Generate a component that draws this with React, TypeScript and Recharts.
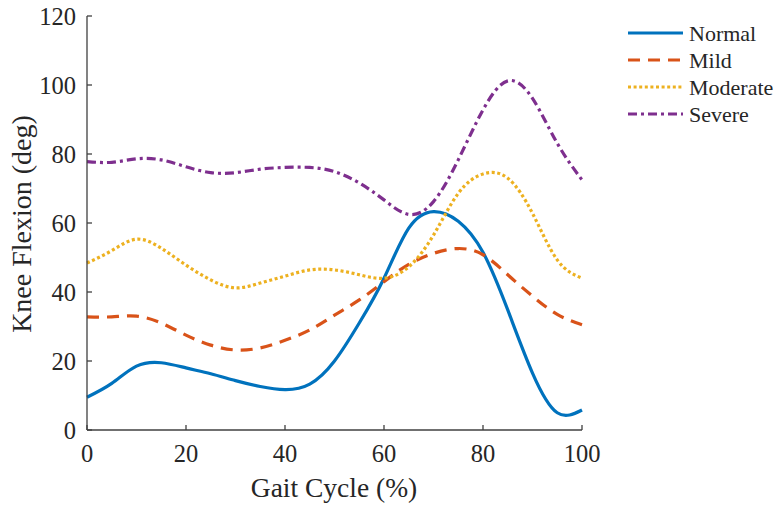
import React from 'react';
import { LineChart, Line, XAxis, YAxis, Legend, Label } from 'recharts';

const gaitCycle = [0, 5, 10, 15, 20, 25, 30, 35, 40, 45, 50, 55, 60, 65, 70, 75, 80, 85, 90, 95, 100];
const normal = [9.5, 13.5, 18.5, 19.5, 18, 16.3, 14.3, 12.6, 11.7, 13.3, 20, 31, 44, 58.5, 63.3, 60.5, 51.5, 34.8, 16.5, 5, 5.8];
const mild = [32.8, 32.8, 33, 31, 27.5, 24.6, 23.2, 23.8, 26, 29, 33.3, 37.7, 43, 48, 51.2, 52.6, 50.8, 45, 38.8, 33.5, 30.5];
const moderate = [48.4, 52, 55.3, 52.7, 47.8, 43.5, 41.2, 42.6, 44.6, 46.4, 46.4, 45, 44, 47.3, 56.5, 68.6, 74.2, 73, 62.8, 49.3, 44];
const severe = [77.8, 77.6, 78.6, 78.3, 76.3, 74.6, 74.6, 75.6, 76.1, 76.1, 74.9, 71.6, 66.7, 62.5, 66.2, 78.3, 92.8, 101.2, 96.1, 83.1, 72.5];

const xTicks = [0, 20, 40, 60, 80, 100];
const yTicks = [0, 20, 40, 60, 80, 100, 120];

const seriesNames = ['Normal', 'Mild', 'Moderate', 'Severe'];
const seriesKeys = ['normal', 'mild', 'moderate', 'severe'];
const seriesColors = ['#0072BD', '#D95319', '#EDB120', '#7E2F8E'];
const seriesDash = [undefined, '12 8', '3 2.6', '9 4 3 4'];

const data = gaitCycle.map((x, i) => ({
  x,
  normal: normal[i],
  mild: mild[i],
  moderate: moderate[i],
  severe: severe[i],
}));

const FONT = '"Liberation Serif", "Times New Roman", serif';
const AXIS = '#404040';
const TEXT = '#262626';

const LegendBox = () => (
  <svg width={163} height={115} style={{ overflow: 'visible' }}>
    {seriesNames.map((name, i) => {
      const y = 18 + i * 27;
      return (
        <g key={name}>
          <line x1={8} x2={63} y1={y} y2={y} stroke={seriesColors[i]} strokeWidth={3}
            strokeDasharray={seriesDash[i]} />
          <text x={69} y={y + 8} fontFamily={FONT} fontSize={22} fill={TEXT}>{name}</text>
        </g>
      );
    })}
  </svg>
);

export default function App() {
  return (
    <div style={{ position: 'absolute', left: 0, top: 0, width: 783, height: 511, background: '#fff' }}>
      <LineChart width={783} height={511} data={data}
        margin={{ top: 16, right: 201, bottom: 41, left: 27 }}>
        <XAxis dataKey="x" type="number" domain={[0, 100]} ticks={xTicks} height={40}
          axisLine={{ stroke: AXIS, strokeWidth: 1.3 }} tickLine={{ stroke: AXIS, strokeWidth: 1.3 }}
          tickSize={-5} tickMargin={20}
          tick={{ fill: TEXT, fontSize: 24.5, fontFamily: FONT }} interval={0}>
          <Label content={() => (
            <text x={334} y={497} textAnchor="middle" fontFamily={FONT} fontSize={27.5} fill={TEXT}>Gait Cycle (%)</text>
          )} />
        </XAxis>
        <YAxis type="number" domain={[0, 120]} ticks={yTicks} width={60}
          axisLine={{ stroke: AXIS, strokeWidth: 1.3 }} tickLine={{ stroke: AXIS, strokeWidth: 1.3 }}
          tickSize={-5} tickMargin={16}
          tick={{ fill: TEXT, fontSize: 24.5, fontFamily: FONT }} interval={0}>
          <Label content={() => (
            <text x={31} y={224} transform="rotate(-90 31 224)" textAnchor="middle"
              fontFamily={FONT} fontSize={28} fill={TEXT}>Knee Flexion (deg)</text>
          )} />
        </YAxis>
        {seriesKeys.map((k, i) => (
          <Line key={k} dataKey={k} name={seriesNames[i]} type="natural" stroke={seriesColors[i]}
            strokeWidth={3.2} strokeDasharray={seriesDash[i]} dot={false} activeDot={false}
            isAnimationActive={false} />
        ))}
        <Legend layout="horizontal" verticalAlign="middle" align="center" content={() => <LegendBox />}
          wrapperStyle={{ position: 'absolute', left: 620, top: 15, width: 163, height: 115 }} />
      </LineChart>
    </div>
  );
}
